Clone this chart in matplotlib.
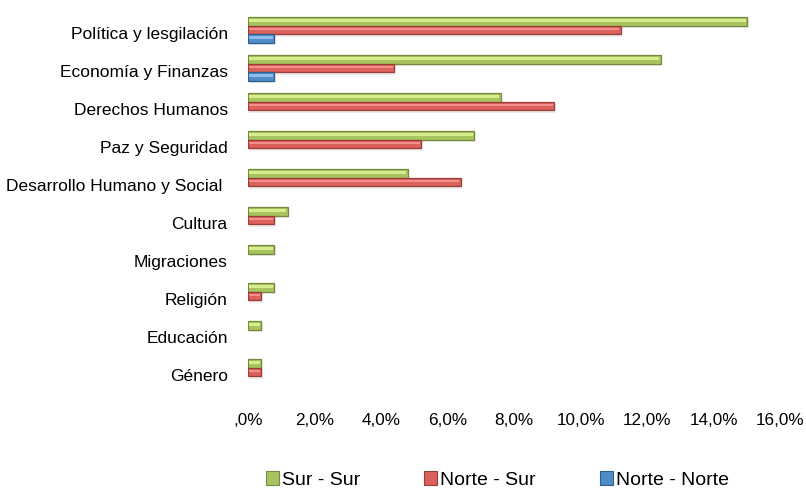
import matplotlib
matplotlib.use("Agg")
import matplotlib.pyplot as plt
import numpy as np
from matplotlib.patches import Patch
from matplotlib.transforms import ScaledTranslation

categories = ["Política y lesgilación", "Economía y Finanzas", "Derechos Humanos",
              "Paz y Seguridad", "Desarrollo Humano y Social ", "Cultura",
              "Migraciones", "Religión", "Educación", "Género"]
sur_sur = [15.0, 12.4, 7.6, 6.8, 4.8, 1.2, 0.8, 0.8, 0.4, 0.4]
norte_sur = [11.2, 4.4, 9.2, 5.2, 6.4, 0.8, 0.0, 0.4, 0.0, 0.4]
norte_norte = [0.8, 0.8, 0.0, 0.0, 0.0, 0.0, 0.0, 0.0, 0.0, 0.0]
series_names = ["Sur - Sur", "Norte - Sur", "Norte - Norte"]
xticks = [0, 2, 4, 6, 8, 10, 12, 14, 16]
xtick_labels = [",0%", "2,0%", "4,0%", "6,0%", "8,0%", "10,0%", "12,0%", "14,0%", "16,0%"]

plt.rcParams['font.family'] = ['Liberation Sans', 'DejaVu Sans']

fig = plt.figure(figsize=(8.06, 4.93), dpi=100)
ax = fig.add_axes([247.7/806, 1-391/493, (780.5-247.7)/806, (391-11)/493])

y = np.arange(len(categories))
h = 0.23
styles = [
    # base, light, edge
    ("#a8c460", "#d6ee8e", "#75883e"),
    ("#dc605c", "#f4908b", "#9c3c39"),
    ("#4f8cc9", "#8ebce8", "#2f5f8f"),
]
for vals, off, (base, light, edge) in zip([sur_sur, norte_sur, norte_norte], [-h, 0, h], styles):
    vals = np.array(vals)
    mask = vals > 0
    # shadow
    ax.barh(y[mask] + off + 0.06, vals[mask], height=h, color="#000000", alpha=0.08,
            left=0.05, linewidth=0, zorder=1)
    ax.barh(y[mask] + off, vals[mask], height=h, color=base, edgecolor=edge,
            linewidth=0.9, zorder=2)
    ax.barh(y[mask] + off - h*0.12, vals[mask] - 0.08, height=h*0.32, left=0.04,
            color=light, linewidth=0, zorder=3)

ax.set_xlim(0, 16)
ax.set_ylim(len(categories) - 0.5, -0.5)
ax.set_xticks(xticks)
ax.set_xticklabels(xtick_labels, fontsize=12.3)
ax.set_yticks(y)
ax.set_yticklabels(categories, fontsize=12.5)
ax.tick_params(axis='x', length=0, pad=16)
ax.tick_params(axis='y', length=0, pad=14.4)
shift = ScaledTranslation(0, -3/100, fig.dpi_scale_trans)
for lab in ax.get_yticklabels():
    lab.set_transform(lab.get_transform() + shift)
for s in ax.spines.values():
    s.set_visible(False)

handles = [Patch(facecolor=st[0], edgecolor=st[2], linewidth=0.8) for st in styles]
fig.legend(handles, series_names, loc='center', bbox_to_anchor=(497.5/806, 1 - 480/493),
           ncol=3, frameon=False, fontsize=14, handlelength=0.67, handleheight=0.67,
           handletextpad=0.15, columnspacing=3.3, borderpad=0, borderaxespad=0)

fig.savefig("out.png", dpi=100)
